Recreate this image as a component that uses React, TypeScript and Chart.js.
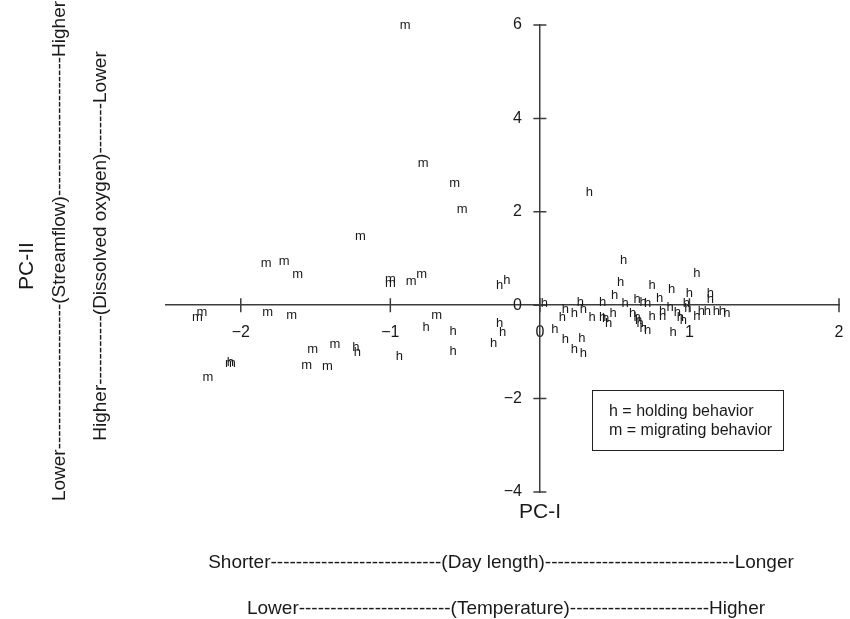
import React, { useEffect, useRef } from 'react';
import { Chart, registerables } from 'chart.js';

Chart.register(...registerables);

const FONT = '"Liberation Sans", Arial, Helvetica, sans-serif';

// h = holding behavior
const holdingX = [
  -2.07, -1.23, -1.22, -0.76, -0.58, -0.58, -0.94, -0.27, -0.22, -0.27, -0.25, -0.31,
  0.03, 0.33, 0.56, 0.54, 0.50, 0.57, 0.65, 0.69, 0.72, 0.42, 0.27, 0.17,
  0.15, 0.23, 0.29, 0.35, 0.42, 0.44, 0.46, 0.49, 0.10, 0.17, 0.28, 0.23,
  0.29, 0.62, 0.65, 0.66, 0.67, 0.69, 0.72, 0.75, 0.80, 0.88, 1.00, 1.05,
  1.14, 1.14, 0.98, 0.99, 0.87, 0.92, 0.82, 0.94, 0.96, 1.05, 1.08, 1.12,
  1.18, 1.22, 1.25, 0.75, 0.82, 0.89,
];
const holdingY = [
  -1.22, -0.90, -1.01, -0.47, -0.56, -0.99, -1.09, 0.43, 0.54, -0.39, -0.58, -0.81,
  0.04, 2.42, 0.96, 0.49, 0.21, 0.04, 0.13, 0.06, 0.04, 0.06, 0.06, -0.09,
  -0.26, -0.17, -0.09, -0.26, -0.26, -0.28, -0.39, -0.17, -0.51, -0.73, -0.71, -0.94,
  -1.03, -0.17, -0.26, -0.32, -0.39, -0.49, -0.54, 0.43, 0.15, 0.34, 0.26, 0.69,
  0.26, 0.13, 0.04, -0.06, -0.04, -0.15, -0.13, -0.26, -0.32, -0.24, -0.13, -0.13,
  -0.13, -0.13, -0.17, -0.24, -0.24, -0.58,
];

// m = migrating behavior
const migratingX = [
  -0.90, -0.78, -0.57, -0.52, -1.20, -1.83, -1.71, -1.62, -1.00, -1.00, -0.86, -0.79,
  -2.26, -2.29, -1.82, -1.66, -0.69, -1.52, -1.37, -1.56, -1.42, -2.22, -2.07,
];
const migratingY = [
  6.00, 3.04, 2.61, 2.06, 1.48, 0.90, 0.94, 0.66, 0.56, 0.47, 0.51, 0.66,
  -0.15, -0.26, -0.15, -0.21, -0.21, -0.94, -0.84, -1.29, -1.31, -1.54, -1.24,
];

const xTicks = [-2, -1, 0, 1, 2];
const yTicks = [-4, -2, 0, 2, 4, 6];

const legendLines = ['h = holding behavior', 'm = migrating behavior'];
const xTitle = 'PC-I';
const yTitle = 'PC-II';
const xSubtitles = [
  'Shorter' + '-'.repeat(27) + '(Day length)' + '-'.repeat(30) + 'Longer',
  'Lower' + '-'.repeat(24) + '(Temperature)' + '-'.repeat(22) + 'Higher',
];
const ySubtitles = [
  'Lower' + '-'.repeat(23) + '(Streamflow)' + '-'.repeat(22) + 'Higher',
  'Higher' + '-'.repeat(11) + '(Dissolved oxygen)' + '-'.repeat(8) + 'Lower',
];

const letters = ['h', 'm'];

const fmt = (v: number) => (v < 0 ? '\u2212' + Math.abs(v) : String(v));

const letterPlugin = {
  id: 'letterMarks',
  afterDatasetsDraw(chart: any) {
    const ctx = chart.ctx;
    ctx.save();
    ctx.fillStyle = '#1a1a1a';
    ctx.font = '13px ' + FONT;
    ctx.textAlign = 'center';
    ctx.textBaseline = 'middle';
    chart.data.datasets.forEach((ds: any, i: number) => {
      const meta = chart.getDatasetMeta(i);
      meta.data.forEach((el: any) => {
        ctx.fillText(letters[i], el.x, el.y);
      });
    });
    ctx.restore();
  },
};

const decorPlugin = {
  id: 'decor',
  afterDraw(chart: any) {
    const ctx = chart.ctx;
    const xs = chart.scales.x;
    const ys = chart.scales.y;
    const x0 = xs.getPixelForValue(0);
    const y0 = ys.getPixelForValue(0);
    ctx.save();
    // crossing tick marks
    ctx.strokeStyle = '#3c3c3c';
    ctx.lineWidth = 1.5;
    ctx.beginPath();
    xTicks.forEach((v) => {
      const px = xs.getPixelForValue(v);
      ctx.moveTo(px, y0 - 7);
      ctx.lineTo(px, y0 + 7);
    });
    yTicks.forEach((v) => {
      const py = ys.getPixelForValue(v);
      ctx.moveTo(x0 - 6.5, py);
      ctx.lineTo(x0 + 6.5, py);
    });
    ctx.stroke();

    ctx.fillStyle = '#1a1a1a';
    // y tick labels (left of the centred axis)
    ctx.font = '16px ' + FONT;
    ctx.textAlign = 'right';
    ctx.textBaseline = 'middle';
    ys.ticks.forEach((t: any) => {
      ctx.fillText(fmt(t.value), x0 - 18, ys.getPixelForValue(t.value));
    });

    ctx.textAlign = 'center';
    // x titles
    ctx.font = '21px ' + FONT;
    ctx.fillText(xTitle, 540, 512);
    ctx.font = '19px ' + FONT;
    ctx.fillText(xSubtitles[0], 501, 563);
    ctx.fillText(xSubtitles[1], 506, 609);
    // y titles (rotated)
    const vtext = (t: string, cx: number, cy: number, size: number) => {
      ctx.save();
      ctx.translate(cx, cy);
      ctx.rotate(-Math.PI / 2);
      ctx.font = size + 'px ' + FONT;
      ctx.fillText(t, 0, 0);
      ctx.restore();
    };
    vtext(yTitle, 27, 266, 21);
    vtext(ySubtitles[0], 60, 251, 19);
    vtext(ySubtitles[1], 101, 246, 19);

    // legend box
    ctx.strokeStyle = '#222';
    ctx.lineWidth = 1;
    ctx.strokeRect(592.5, 390.5, 191, 60);
    ctx.textAlign = 'left';
    ctx.font = '16px ' + FONT;
    ctx.fillText(legendLines[0], 609, 412);
    ctx.fillText(legendLines[1], 609, 431);
    ctx.restore();
  },
};

export default function App() {
  const ref = useRef<HTMLCanvasElement | null>(null);
  useEffect(() => {
    if (!ref.current) return;
    const hData = holdingX.map((x, i) => ({ x, y: holdingY[i] }));
    const mData = migratingX.map((x, i) => ({ x, y: migratingY[i] }));
    const axisCommon = {
      type: 'linear' as const,
      grid: { display: false, drawTicks: false },
      border: { display: true, color: '#3c3c3c', width: 1.5 },
    };
    const chart = new Chart(ref.current, {
      type: 'scatter',
      data: {
        datasets: [
          { label: 'h', data: hData, pointRadius: 0, pointHoverRadius: 0 },
          { label: 'm', data: mData, pointRadius: 0, pointHoverRadius: 0 },
        ],
      },
      options: {
        animation: false,
        responsive: false,
        layout: { padding: { left: 166, right: 11, top: 25, bottom: 127 } },
        plugins: { legend: { display: false }, tooltip: { enabled: false } },
        scales: {
          x: {
            ...axisCommon,
            min: -2.5,
            max: 2,
            position: { y: 0 } as any,
            afterBuildTicks: (scale: any) => {
              scale.ticks = xTicks.map((v) => ({ value: v }));
            },
            afterFit: (scale: any) => {
              scale.paddingLeft = 0;
              scale.paddingRight = 0;
              scale.paddingTop = 0;
              scale.paddingBottom = 0;
            },
            ticks: {
              padding: 18,
              color: '#1a1a1a',
              font: { family: FONT, size: 16 },
              maxRotation: 0,
              autoSkip: false,
              callback: (v: any) => fmt(Number(v)),
            },
          },
          y: {
            ...axisCommon,
            min: -4,
            max: 6,
            position: { x: 0 } as any,
            afterBuildTicks: (scale: any) => {
              scale.ticks = yTicks.map((v) => ({ value: v }));
            },
            afterFit: (scale: any) => {
              scale.paddingLeft = 0;
              scale.paddingRight = 0;
              scale.paddingTop = 0;
              scale.paddingBottom = 0;
            },
            ticks: {
              display: false,
              autoSkip: false,
            },
          },
        },
      },
      plugins: [letterPlugin, decorPlugin],
    });
    return () => chart.destroy();
  }, []);
  return (
    <div style={{ position: 'absolute', left: 0, top: 0, width: 850, height: 619, background: '#fff' }}>
      <canvas ref={ref} width={850} height={619} style={{ width: 850, height: 619, display: 'block' }} />
    </div>
  );
}
